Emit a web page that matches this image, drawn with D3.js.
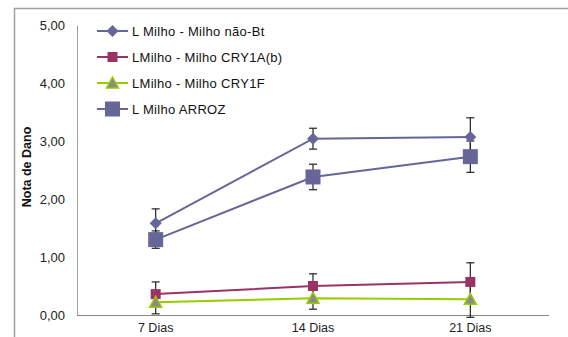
<!DOCTYPE html>
<html>
<head>
<meta charset="utf-8">
<script src="https://cdn.jsdelivr.net/npm/d3@7"></script>
<style>
  body { margin: 0; background: #fff; }
  svg { display: block; font-family: "Liberation Sans", Arial, sans-serif; }
</style>
</head>
<body>
<script>
const width = 568
const height = 337

const categories = ["7 Dias", "14 Dias", "21 Dias"]
const yTicks = [0, 1, 2, 3, 4, 5]

const naoBt = [1.58, 3.04, 3.07]
const naoBtErr = [0.25, 0.18, 0.33]
const cry1a = [0.36, 0.50, 0.57]
const cry1aErr = [0.21, 0.21, 0.33]
const cry1f = [0.22, 0.29, 0.27]
const cry1fErr = [0.2, 0.19, 0.31]
const arroz = [1.30, 2.38, 2.73]
const arrozErr = [0.15, 0.22, 0.27]

const series = [
    { name: "L Milho - Milho não-Bt", values: naoBt, err: naoBtErr, color: "#666699", marker: "diamond" },
    { name: "LMilho - Milho CRY1A(b)", values: cry1a, err: cry1aErr, color: "#993366", marker: "square" },
    { name: "LMilho - Milho CRY1F", values: cry1f, err: cry1fErr, color: "#99cc00", marker: "triangle" },
    { name: "L Milho ARROZ", values: arroz, err: arrozErr, color: "#666699", marker: "bigsquare" },
]

const margin = { left: 77, right: 19, top: 25, bottom: 22 }

const x = d3.scaleBand()
    .domain(categories)
    .range([margin.left, width - margin.right])

const y = d3.scaleLinear()
    .domain([0, 5])
    .range([height - margin.bottom, margin.top])

const svg = d3.select("body")
    .append("svg")
    .attr("width", width)
    .attr("height", height)

// outer chart frame
svg.append("path")
    .attr("d", `M14.5,${height} V8.5 H${width}`)
    .attr("fill", "none")
    .attr("stroke", "#a0a0a0")
    .attr("stroke-width", 1.5)

// y axis
const yAxis = svg.append("g")
    .attr("transform", `translate(${margin.left},0)`)
    .call(d3.axisLeft(y).tickValues(yTicks).tickSize(0).tickPadding(12)
        .tickFormat((d) => d3.format(".2f")(d).replace(".", ",")))
yAxis.select(".domain").attr("stroke", "#a0a0a0")
yAxis.selectAll("text")
    .attr("font-size", 13)
    .attr("fill", "#222")
    .attr("font-family", "Liberation Sans, Arial, sans-serif")

// x axis (labels sit at the bottom edge, as in the original)
const xAxis = svg.append("g")
    .attr("transform", `translate(0,${y(0)})`)
    .call(d3.axisBottom(x).tickSize(0).tickPadding(8))
xAxis.select(".domain").attr("stroke", "#888").attr("d", `M${margin.left},0.5H${width - margin.right}`)
xAxis.selectAll("text")
    .attr("font-size", 12.5)
    .attr("fill", "#222")
    .attr("font-family", "Liberation Sans, Arial, sans-serif")

svg.append("text")
    .attr("transform", `translate(31,${(y(0) + y(5)) / 2 - 3}) rotate(-90)`)
    .attr("text-anchor", "middle")
    .attr("font-size", 12.5)
    .attr("font-weight", "bold")
    .attr("fill", "#111")
    .text("Nota de Dano")

const cx = (i) => x(categories[i]) + x.bandwidth() / 2

function drawMarker(g, s, px, py) {
    if (s.marker === "diamond") {
        g.append("path")
            .attr("d", `M${px},${py - 6}L${px + 6},${py}L${px},${py + 6}L${px - 6},${py}Z`)
            .attr("fill", s.color)
    } else if (s.marker === "square") {
        g.append("rect")
            .attr("x", px - 5).attr("y", py - 5)
            .attr("width", 10).attr("height", 10)
            .attr("fill", s.color)
    } else if (s.marker === "bigsquare") {
        g.append("rect")
            .attr("x", px - 7.5).attr("y", py - 7.5)
            .attr("width", 15).attr("height", 15)
            .attr("fill", s.color)
    } else {
        g.append("path")
            .attr("d", `M${px},${py - 6}L${px + 6},${py + 5}L${px - 6},${py + 5}Z`)
            .attr("fill", "#8a8a8a")
            .attr("stroke", s.color)
            .attr("stroke-width", 1.5)
    }
}

// error bars
const errG = svg.append("g").attr("stroke", "#222").attr("stroke-width", 1.2)
series.forEach((s) => {
    s.values.forEach((v, i) => {
        const px = cx(i)
        const y1 = y(v + s.err[i])
        const y2 = y(v - s.err[i])
        errG.append("line").attr("x1", px).attr("x2", px).attr("y1", y1).attr("y2", y2)
        errG.append("line").attr("x1", px - 4).attr("x2", px + 4).attr("y1", y1).attr("y2", y1)
        errG.append("line").attr("x1", px - 4).attr("x2", px + 4).attr("y1", y2).attr("y2", y2)
    })
})

const line = d3.line()
    .x((d, i) => cx(i))
    .y((d) => y(d))

series.forEach((s) => {
    const g = svg.append("g")
    g.append("path")
        .datum(s.values)
        .attr("d", line)
        .attr("fill", "none")
        .attr("stroke", s.color)
        .attr("stroke-width", 2)
    s.values.forEach((v, i) => drawMarker(g, s, cx(i), y(v)))
})

// legend
const legend = svg.append("g")
series.forEach((s, i) => {
    const ly = 31 + i * 26
    const g = legend.append("g")
    g.append("line")
        .attr("x1", 97).attr("x2", 128)
        .attr("y1", ly).attr("y2", ly)
        .attr("stroke", s.color)
        .attr("stroke-width", 2)
    drawMarker(g, s, 112.5, ly)
    g.append("text")
        .attr("x", 132)
        .attr("y", ly)
        .attr("dy", "0.35em")
        .attr("font-size", 13)
        .attr("letter-spacing", 0.3)
        .attr("fill", "#111")
        .text(s.name)
})
</script>
</body>
</html>
